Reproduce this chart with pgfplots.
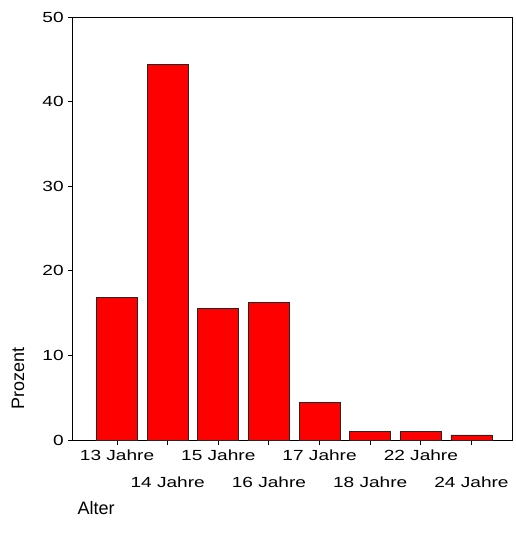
\documentclass[border=0pt]{standalone}
\usepackage{fontspec}
\setmainfont{Liberation Sans}
\usepackage{graphicx}
\usepackage{pgfplots}
\pgfplotsset{compat=1.18}
\newcommand{\tl}[1]{\scalebox{1.3}[1]{#1}}
\begin{document}
\begin{tikzpicture}
\begin{axis}[
  at={(0,0)}, anchor=south west,
  scale only axis,
  width=329.25pt, height=317.25pt,
  xmin=-0.87, xmax=7.8,
  ymin=0, ymax=50,
  ytick={0,10,20,30,40,50},
  yticklabel={\tl{\pgfmathprintnumber[assume math mode=true]{\tick}}},
  xtick={0,2,4,6},
  xticklabels={\tl{13 Jahre},\tl{15 Jahre},\tl{17 Jahre},\tl{22 Jahre}},
  extra x ticks={1,3,5,7},
  extra x tick labels={\tl{14 Jahre},\tl{16 Jahre},\tl{18 Jahre},\tl{24 Jahre}},
  extra x tick style={xticklabel style={yshift=-20pt}},
  tick label style={font=\fontsize{11}{13}\selectfont, text=black},
  xticklabel style={yshift=-0.5pt},
  tick align=outside,
  xtick pos=bottom, ytick pos=left,
  major tick length=3.5pt,
  axis line style={black, line width=0.75pt},
  every tick/.style={black, line width=0.75pt},
  ylabel={Prozent},
  ylabel style={at={(axis description cs:-0.125,0.146)}, anchor=center, rotate=0, font=\fontsize{13.5}{15}\selectfont},
  xlabel={Alter},
  xlabel style={at={(axis description cs:0,-0.160)}, anchor=west, font=\fontsize{13.5}{15}\selectfont},
]
\addplot[ybar, bar width=0.81, fill=red, draw=black!85, line width=0.6pt] coordinates {
  (0,16.8) (1,44.4) (2,15.5) (3,16.3) (4,4.4) (5,1.0) (6,1.0) (7,0.6)
};
\end{axis}
\path[use as bounding box] (-54.75pt,-78pt) rectangle ++(387pt,408pt);
\end{tikzpicture}
\end{document}
